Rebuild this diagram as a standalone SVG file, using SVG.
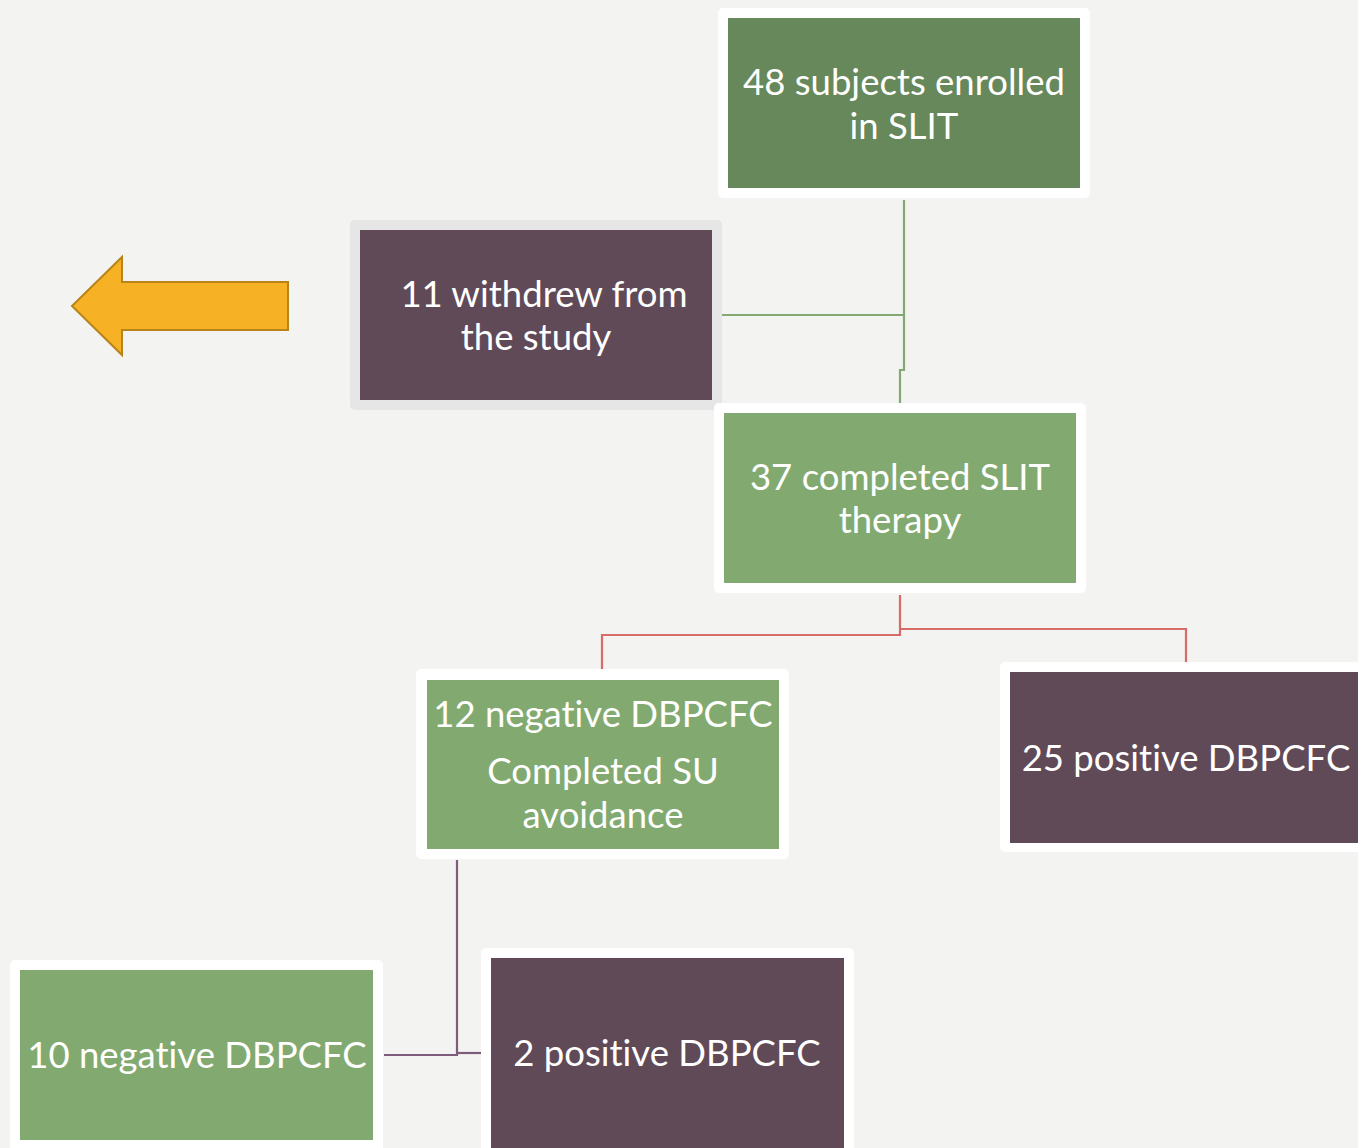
<svg xmlns="http://www.w3.org/2000/svg" width="1358" height="1148" viewBox="0 0 1358 1148">
<defs>
<style>
.frame{fill:#FFFFFF}
.gframe{fill:#E6E6E6}
.dg{fill:#66885A}
.lg{fill:#82AA70}
.pu{fill:#614A58}
.t{font-family:Lato,"Open Sans","DejaVu Sans",sans-serif;font-size:36.5px;fill:#FFFFFF;text-anchor:middle;font-variant-ligatures:none}
.cg{stroke:#84A874;stroke-width:2.2;fill:none}
.cr{stroke:#D66B68;stroke-width:2.2;fill:none}
.cp{stroke:#7E5C7A;stroke-width:2.2;fill:none}
</style>
</defs>
<rect width="1358" height="1148" fill="#F3F3F1"/>
<g id="connectors">
<path class="cg" d="M904,200 V370 H900 V403"/>
<path class="cg" d="M722,315 H904"/>
<path class="cr" d="M900,595 V635 H602 V669"/>
<path class="cr" d="M900,629 H1186 V662"/>
<path class="cp" d="M457,860 V1055 H384"/>
<path class="cp" d="M457,1053 H481"/>
</g>
<g id="arrow">
<polygon points="72,306 122,257 122,282 288,282 288,330 122,330 122,355" fill="#F7B125" stroke="#B8841A" stroke-width="2"/>
</g>
<g id="n1">
<rect class="frame" x="718" y="8" width="372" height="190" rx="5"/>
<rect class="dg" x="728" y="18" width="352" height="170"/>
<text class="t" x="904" y="95">48 subjects enrolled</text>
<text class="t" x="904" y="139">in SLIT</text>
</g>
<g id="n2">
<rect class="gframe" x="350" y="220" width="372" height="190" rx="5"/>
<rect class="pu" x="360" y="230" width="352" height="170"/>
<text class="t" x="544" y="307">11 withdrew from</text>
<text class="t" x="536" y="350">the study</text>
</g>
<g id="n3">
<rect class="frame" x="714" y="403" width="372" height="190" rx="5"/>
<rect class="lg" x="724" y="413" width="352" height="170"/>
<text class="t" x="900" y="490">37 completed SLIT</text>
<text class="t" x="900" y="533">therapy</text>
</g>
<g id="n4">
<rect class="frame" x="416" y="669" width="373" height="190" rx="5"/>
<rect class="lg" x="427" y="680" width="352" height="169"/>
<text class="t" x="603" y="727">12 negative DBPCFC</text>
<text class="t" x="603" y="784">Completed SU</text>
<text class="t" x="603" y="828">avoidance</text>
</g>
<g id="n5">
<rect class="frame" x="1000" y="662" width="372" height="190" rx="5"/>
<rect class="pu" x="1010" y="672" width="362" height="171"/>
<text class="t" x="1186" y="771">25 positive DBPCFC</text>
</g>
<g id="n6">
<rect class="frame" x="10" y="960" width="373" height="195" rx="5"/>
<rect class="lg" x="20" y="970" width="353" height="170"/>
<text class="t" x="197" y="1068">10 negative DBPCFC</text>
</g>
<g id="n7">
<rect class="frame" x="481" y="948" width="373" height="210" rx="5"/>
<rect class="pu" x="491" y="958" width="353" height="195"/>
<text class="t" x="667" y="1066">2 positive DBPCFC</text>
</g>
</svg>
